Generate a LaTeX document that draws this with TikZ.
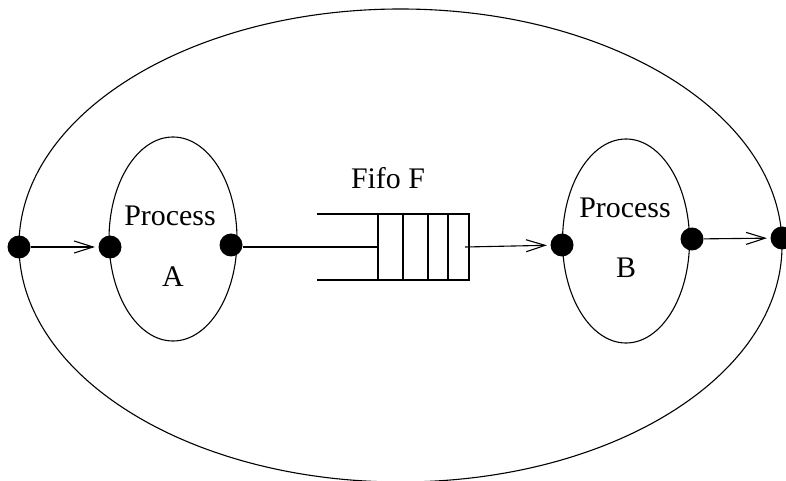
\documentclass[tikz,border=0pt]{standalone}
\usepackage{fontspec}
\setmainfont{Liberation Serif}
\usetikzlibrary{arrows.meta,shapes.geometric}
\begin{document}
\begin{tikzpicture}[x=1bp,y=-1bp,line width=1.1bp,
  region/.style={draw,ellipse,inner sep=0pt},
  port/.style={circle,fill=black,inner sep=0pt,minimum size=23bp},
  label/.style={font=\fontsize{30}{32}\selectfont,inner sep=0pt},
  flow/.style={-{Straight Barb[length=19bp,width=12bp]},shorten >=3bp}]
\useasboundingbox (0,0) rectangle (786,481);

% outer system and the two processes
\node[region,minimum width=763bp,minimum height=473bp] (sys) at (400.5,245.5) {};
\node[region,minimum width=128bp,minimum height=204bp] (procA) at (173,239) {};
\node[region,minimum width=127bp,minimum height=204bp] (procB) at (626,241) {};

\node[label] (txtA1) at (170,216) {Process};
\node[label] (txtA2) at (173,277) {A};
\node[label] (txtB1) at (625,208) {Process};
\node[label] (txtB2) at (626,268) {B};
\node[label] (txtF) at (388,178) {Fifo F};

% ports
\node[port] (inSys) at (19,247) {};
\node[port] (inA) at (110,247) {};
\node[port] (outA) at (231,245) {};
\node[port] (inB) at (562,245) {};
\node[port] (outB) at (692,239) {};
\node[port] (outSys) at (782,238) {};

% fifo queue
\coordinate (qtl) at (317,214);
\coordinate (qtr) at (469,214);
\coordinate (qbl) at (317,280);
\coordinate (qbr) at (469,280);
\coordinate (qin) at (378,247);
\coordinate (qout) at (465,247);
\draw (qtl) -- (qtr) -- (qbr) -- (qbl);
\draw (378,214) -- (378,280);
\draw (403,214) -- (403,280);
\draw (428,214) -- (428,280);
\draw (448,214) -- (448,280);

% connectors
\draw[flow] (inSys) -- (inA);
\draw (outA.east |- qin) -- (qin);
\draw[flow] (qout) -- (inB);
\draw[flow] (outB) -- (outSys);
\end{tikzpicture}
\end{document}
